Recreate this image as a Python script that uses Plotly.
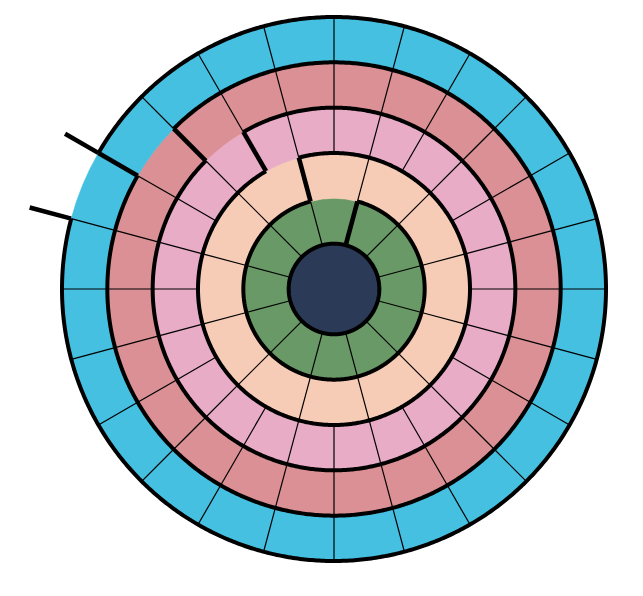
import numpy as np
import plotly.graph_objects as go

# ---- data: ring layout of the circular maze ----
ring_names = ["core", "green", "peach", "pink", "rose", "cyan"]
ring_inner = [0, 1, 2, 3, 4, 5]          # inner radius (ring units)
ring_sectors = [1, 12, 12, 24, 24, 24]   # cells per ring
ring_offset = [0, 15, 15, 0, 0, 0]       # angle of first cell boundary (deg)
ring_colors = ["#2B3A56", "#689966", "#F6CCB6", "#E8ACC6", "#DA9094", "#45C0E0"]

# thick circular walls: radius, start deg, end deg (clockwise from north)
arc_r = [1, 2, 3, 4, 5, 6]
arc_start = [0, 15, 345, 330, 315, 300]
arc_end = [360, 345, 690, 675, 660, 645]

# thick radial walls: angle deg, r from, r to
wall_theta = [15, 345, 330, 315, 300, 285]
wall_r0 = [1, 2, 3, 4, 5, 6]
wall_r1 = [2, 3, 4, 5, 6.85, 6.95]

OUTER = 6.0
fig = go.Figure()

# ---- cells ----
for i, name in enumerate(ring_names):
    n = ring_sectors[i]
    w = 360.0 / n
    if i == 0:
        fig.add_trace(go.Barpolar(r=[1], base=[0], theta=[0], width=[360],
                                  marker=dict(color=ring_colors[i],
                                              line=dict(width=0)),
                                  hoverinfo="skip", name=name))
        continue
    centers = [ring_offset[i] + w * (k + 0.5) for k in range(n)]
    fig.add_trace(go.Barpolar(r=[1] * n, base=[ring_inner[i]] * n,
                              theta=centers, width=[w] * n,
                              marker=dict(color=ring_colors[i],
                                          line=dict(width=0.6, color=ring_colors[i])),
                              hoverinfo="skip", name=name))

# ---- thin cell boundaries ----
thin_r, thin_t = [], []
for i in range(1, len(ring_names)):
    n = ring_sectors[i]
    w = 360.0 / n
    for k in range(n):
        a = (ring_offset[i] + w * k) % 360
        is_wall = any(abs(((a - wt) + 180) % 360 - 180) < 1e-6 and r0 == ring_inner[i]
                      for wt, r0 in zip(wall_theta, wall_r0))
        if is_wall:
            continue
        thin_r += [ring_inner[i], ring_inner[i] + 1, None]
        thin_t += [a, a, None]
fig.add_trace(go.Scatterpolar(r=thin_r, theta=thin_t, mode="lines",
                              line=dict(color="black", width=1.2),
                              hoverinfo="skip", showlegend=False))

# ---- thick radial walls inside the disc (polar) ----
wr, wt = [], []
for a, r0, r1 in zip(wall_theta, wall_r0, wall_r1):
    if r0 < OUTER:
        wr += [r0, min(r1, OUTER), None]
        wt += [a, a, None]
fig.add_trace(go.Scatterpolar(r=wr, theta=wt, mode="lines",
                              line=dict(color="black", width=4.6),
                              hoverinfo="skip", showlegend=False))

# ---- thick arcs ----
for r, a0, a1 in zip(arc_r, arc_start, arc_end):
    t = np.linspace(a0, a1, int(abs(a1 - a0) * 2) + 2)
    fig.add_trace(go.Scatterpolar(r=[r] * len(t), theta=t, mode="lines",
                                  line=dict(color="black", width=4.0),
                                  hoverinfo="skip", showlegend=False))

# ---- wall parts outside the disc (cartesian overlay, same scale) ----
ox, oy = [], []
for a, r0, r1 in zip(wall_theta, wall_r0, wall_r1):
    if r1 > OUTER:
        rr = np.array([max(r0, OUTER - 0.05), r1])
        ox += list(rr * np.sin(np.radians(a))) + [None]
        oy += list(rr * np.cos(np.radians(a))) + [None]
fig.add_trace(go.Scatter(x=ox, y=oy, mode="lines",
                         line=dict(color="black", width=4.6),
                         hoverinfo="skip", showlegend=False))

# ---- geometry (pixels) ----
W, H = 643, 596
cx, cy = 326, 281          # centre in figure pixels
u = 272 / 6.0              # pixels per ring unit
RMAX = 6.15
Rpx = RMAX * u

fig.update_layout(
    width=W, height=H,
    margin=dict(l=0, r=0, t=0, b=0),
    paper_bgcolor="white",
    plot_bgcolor="rgba(0,0,0,0)",
    showlegend=False,
    xaxis=dict(range=[-cx / u, (W - cx) / u], visible=False, fixedrange=True),
    yaxis=dict(range=[-(H - cy) / u, cy / u], visible=False, fixedrange=True),
    polar=dict(
        domain=dict(x=[(cx - Rpx) / W, (cx + Rpx) / W],
                    y=[(H - cy - Rpx) / H, (H - cy + Rpx) / H]),
        bgcolor="rgba(0,0,0,0)",
        hole=0,
        radialaxis=dict(range=[0, RMAX], visible=False, showgrid=False),
        angularaxis=dict(visible=False, rotation=90, direction="clockwise",
                         showgrid=False),
    ),
)
fig.write_html("out.html")
